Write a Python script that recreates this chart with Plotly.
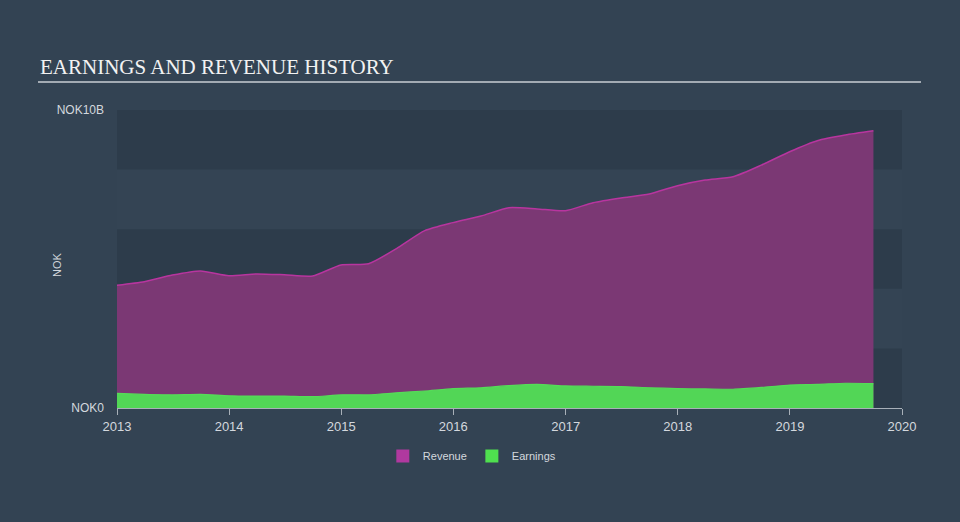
import plotly.graph_objects as go
import pandas as pd

dates = pd.date_range("2012-12-31", periods=28, freq="QE").strftime("%Y-%m-%d").tolist()
revenue_b = [4.12, 4.24, 4.46, 4.60, 4.44, 4.50, 4.47, 4.43, 4.80, 4.84, 5.35, 5.95,
             6.22, 6.44, 6.72, 6.68, 6.62, 6.89, 7.05, 7.18, 7.46, 7.65, 7.76, 8.15,
             8.60, 8.97, 9.16, 9.30]
earnings_b = [0.49, 0.46, 0.44, 0.46, 0.41, 0.40, 0.40, 0.38, 0.44, 0.44, 0.51, 0.57,
              0.65, 0.68, 0.75, 0.79, 0.74, 0.73, 0.72, 0.68, 0.65, 0.64, 0.63, 0.69,
              0.77, 0.79, 0.83, 0.82]
y_tickvals = [0, 10]
y_ticktext = ["NOK0", "NOK10B"]
x_ticks = ["2013", "2014", "2015", "2016", "2017", "2018", "2019", "2020"]

PAPER = "#334353"
BAND_DARK = "#2d3c4b"
TXT = "#d3d8de"

fig = go.Figure()
fig.add_trace(go.Scatter(x=dates, y=revenue_b, mode="lines", fill="tozeroy",
                         line=dict(color="#b8359f", width=1.5, shape="spline", smoothing=0.6),
                         fillcolor="#7b3874", showlegend=False, hoverinfo="skip"))
fig.add_trace(go.Scatter(x=dates, y=earnings_b, mode="lines", fill="tozeroy",
                         line=dict(color="#55dc58", width=1.2, shape="spline", smoothing=0.6),
                         fillcolor="#52d656", showlegend=False, hoverinfo="skip"))
# legend entries
fig.add_trace(go.Scatter(x=[None], y=[None], mode="markers", name="Revenue",
                         marker=dict(symbol="square", size=13, color="#b0399f")))
fig.add_trace(go.Scatter(x=[None], y=[None], mode="markers", name="Earnings",
                         marker=dict(symbol="square", size=13, color="#4fe04f")))

shapes = []
for lo in (0, 4, 8):
    shapes.append(dict(type="rect", xref="paper", yref="y", x0=0, x1=1, y0=lo, y1=lo + 2,
                       fillcolor=BAND_DARK, line=dict(width=0), layer="below"))
# title underline
shapes.append(dict(type="line", xref="paper", yref="paper",
                   x0=(38 - 117) / 785, x1=(921 - 117) / 785,
                   y0=(408 - 82) / 298, y1=(408 - 82) / 298,
                   line=dict(color="#a3abb3", width=2)))

fig.update_layout(
    width=960, height=522,
    paper_bgcolor=PAPER, plot_bgcolor="#344454",
    margin=dict(l=117, r=58, t=110, b=114),
    font=dict(family="Liberation Sans, Arial", color=TXT, size=12),
    shapes=shapes,
    showlegend=True,
    legend=dict(orientation="h", x=0.452, xanchor="center", y=(408 - 456) / 298, yanchor="middle",
                font=dict(size=11, color=TXT), bgcolor="rgba(0,0,0,0)", itemwidth=30),
    annotations=[
        dict(text="EARNINGS AND REVENUE HISTORY", xref="paper", yref="paper",
             x=(38 - 117) / 785, y=(408 - 67) / 298, xanchor="left", yanchor="middle",
             showarrow=False, font=dict(family="Liberation Serif, Times New Roman, serif",
                                        size=21, color="#f2f2f2")),
        dict(text="NOK", xref="paper", yref="paper", x=(57 - 117) / 785, y=(408 - 265) / 298,
             textangle=-90, showarrow=False, xanchor="center", yanchor="middle",
             font=dict(size=11, color=TXT)),
    ],
)
fig.update_xaxes(type="date", range=["2013-01-01", "2020-01-01"],
                 tickvals=[f"{y}-01-01" for y in x_ticks], ticktext=x_ticks,
                 showgrid=False, zeroline=False, showline=True, linecolor="#a8b0b8", linewidth=1,
                 ticks="outside", ticklen=6, tickcolor="#a8b0b8",
                 tickfont=dict(size=13, color=TXT))
fig.update_yaxes(range=[0, 10], tickvals=y_tickvals, ticktext=y_ticktext,
                 showgrid=False, zeroline=False, showline=False, ticks="",
                 ticklabelstandoff=12, tickfont=dict(size=12, color=TXT))

fig.write_html("out.html", config={"displayModeBar": False},
               post_script="document.body.style.margin='0';document.body.style.background='#334353';")
